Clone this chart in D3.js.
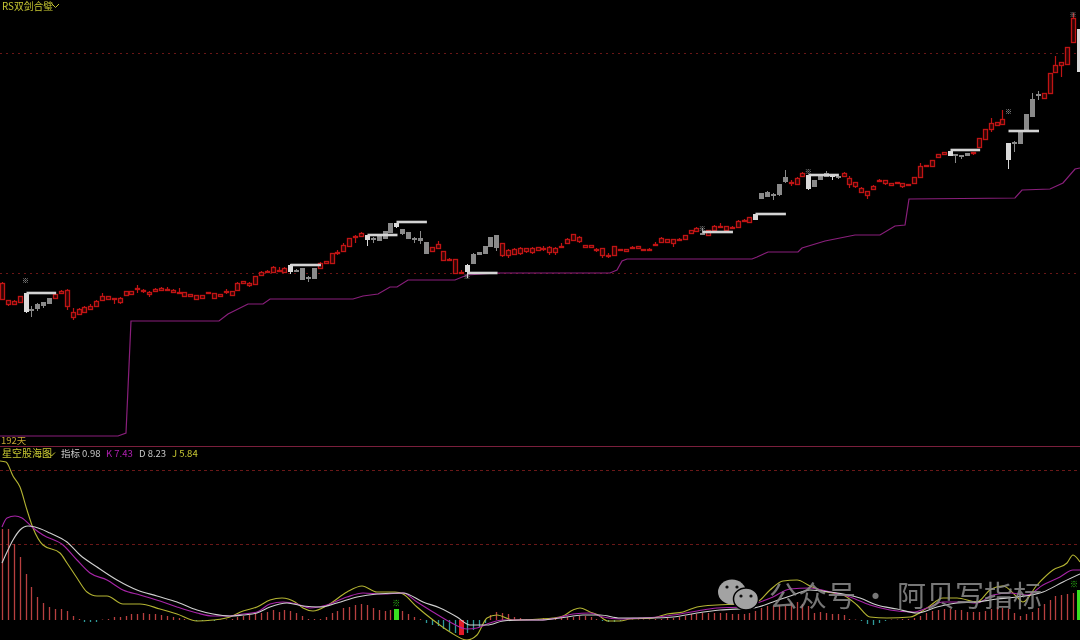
<!DOCTYPE html>
<html><head><meta charset="utf-8">
<script src="https://cdnjs.cloudflare.com/ajax/libs/d3/7.8.5/d3.min.js"></script>
<style>html,body{margin:0;padding:0;background:#000;overflow:hidden}svg{display:block;filter:blur(0.3px)}</style>
</head><body><svg id="c" width="1080" height="640"></svg>
<script>
const bodyTop=[162,145,144,149,152,136,141,143,147,151,
154,155,133,136,138,139,144,149,149,147,
147,154,154,157,155,153,156,157,156,155,
153,153,151,150,150,153,152,151,154,154,
162,164,162,169,173,174,178,175,177,180,
175,177,168,177,182,184,192,193,200,207,
209,212,210,207,209,214,222,222,216,213,
207,207,203,198,201,194,186,186,173,180,
191,193,199,208,210,202,195,196,197,197,
197,198,197,198,197,199,206,211,208,200,
200,196,197,190,199,196,196,198,199,196,
196,201,207,206,206,206,210,215,217,212,
215,219,219,219,218,224,225,228,231,252,
253,251,261,268,263,267,272,270,265,269,
272,271,269,272,267,263,257,254,259,265,
265,262,263,262,261,268,279,280,285,291,
293,294,291,290,292,293,307,316,322,323,
326,302,303,314,331,346,351,352,372,380,
383,398,427,416];
const bodyLen=[16,4,3,6,18,1,4,3,5,4,
2,16,5,5,5,3,5,4,3,1,
4,4,3,1,1,2,2,2,1,2,
1,4,2,4,3,1,5,2,1,4,
7,2,2,8,3,1,5,1,4,6,
1,11,1,10,5,2,10,1,6,8,
1,3,4,1,4,7,9,3,4,6,
1,2,11,4,4,9,1,14,1,6,
9,2,7,9,12,12,5,5,5,3,
4,3,1,5,4,1,4,6,4,2,
2,1,7,1,9,1,2,1,2,1,
1,1,4,3,4,1,4,3,3,1,
5,4,1,4,1,6,1,5,5,5,
4,1,10,4,1,6,3,13,6,3,
3,2,1,3,6,4,4,4,3,1,
3,2,1,3,1,6,11,1,6,3,
2,4,1,1,2,1,9,10,6,3,
5,16,1,12,17,17,1,5,20,7,
3,17,24,42];
const upWick=[1,0,1,0,0,3,1,0,0,0,
1,1,4,1,1,2,1,3,0,0,
1,0,0,3,1,1,1,1,2,1,
4,0,0,0,0,0,0,0,2,0,
1,0,1,0,1,1,1,3,1,1,
1,0,1,0,1,0,0,2,2,0,
1,1,0,1,0,0,0,0,0,0,
1,7,0,0,3,0,1,0,2,1,
1,0,0,0,0,0,1,1,1,0,
1,0,2,1,1,3,1,0,1,0,
0,1,0,2,0,0,0,1,0,0,
1,2,1,0,0,1,0,0,1,5,
0,1,3,0,1,1,1,0,0,0,
1,1,0,7,2,1,1,0,0,0,
2,0,0,1,2,0,1,0,1,1,
0,0,0,0,0,0,3,0,0,0,
0,0,0,0,0,0,0,0,5,0,
9,0,1,0,0,6,3,0,0,9,
0,0,5,0];
const downWick=[1,2,0,1,2,7,3,3,1,0,
1,4,3,1,1,1,1,1,1,5,
2,1,0,4,2,3,1,0,1,1,
1,1,0,1,0,1,1,1,2,0,
0,1,2,0,1,1,1,1,0,3,
1,1,4,1,0,1,0,2,0,0,
6,0,7,4,1,0,0,2,2,1,
4,4,0,1,0,0,1,0,1,7,
1,0,1,0,4,2,3,1,2,2,
2,1,2,3,3,1,1,0,2,0,
0,2,3,2,0,1,0,1,0,1,
1,0,0,0,4,1,0,0,1,1,
0,0,1,0,1,0,1,0,1,0,
0,5,2,2,3,1,1,2,0,0,
0,4,2,1,4,2,0,4,1,1,
2,0,1,2,0,0,0,1,0,0,
0,0,8,3,0,2,1,0,3,1,
0,10,9,0,0,1,5,1,0,0,
12,0,0,0];
const kindRuns=[['r',4],['w',1],['g',4],['r',40],['w',1],['g',4],['r',8],['w',1],['g',4],['w',1],['g',5],['r',6],['w',1],['g',5],['r',34],['g',1],['r',8],['w',1],['g',5],['r',3],['w',1],['g',3],['w',1],['g',1],['r',18],['w',1],['g',3],['r',6],['w',1],['g',5],['r',6],['w',1]];
const signalBars=[4,49,62,67,79,119,128,137,161,171];
const signalLevels=[152,180,210,223,172,213,231,270,295,314];
const markBars=[4,79,119,137,171,182];
const markLevels=[164,168,216,273,333,430];
const stopLine=[[0,9],[118,9],[126,12],[131,124],[219,124],[228,131],[248,141],[263,141],[270,146],[353,146],[363,149],[378,151],[390,158],[397,158],[408,165],[455,165],[467,170],[497,172],[610,172],[617,175],[622,184],[627,186],[752,186],[757,188],[768,193],[798,193],[802,197],[825,204],[855,210],[880,210],[895,219],[905,220],[909,246],[1015,247],[1022,255],[1050,256],[1063,262],[1075,276],[1080,277]];
const histValues=[91,91,76,63,46,33,23,17,13,11,
11,9,4,1,-2,-2,-2,0.5,1,3,
3,4,6,6,7,6,6,5,4,3,
2,1,1,-1,-1,-1,-1,0.5,0.5,1,
3,4,5,6,7,8,10,8,10,9,
7,4,1,1,1,3,7,9,12,13,
15,16,15,12,10,9,10,11,9,6,
3,1,-3,-5,-6,-9,-11,-13,-15,-13,
-10,-7,-3,5,8,7,6,3,2,1,
1,1,2,2,1,2,3,3,4,4,
3,1,-1,-2,-2,-1,0.5,0.5,0.5,0.5,
0.5,1,1,2,2,3,4,6,6,7,
7,7,7,7,6,6,6,7,9,12,
14,14,15,14,17,18,16,14,7,8,
7,6,6,5,1,0.5,-1,-4,-5,-3,
-1,0.5,0.5,1,1,2,4,7,9,10,
11,11,10,10,8,8,8,9,11,13,
12,11,7,4,6,8,12,16,20,24,
25,26,27,30];
const greenBars=[67,183];
const redBars=[78];
const jLine=[[0,159],[6,158],[13,144],[20,133],[27,110],[33,92],[43,75],[60,67],[67,57],[77,42],[87,28],[97,24],[107,24],[123,16],[140,16],[160,11],[177,6],[197,-1],[213,0],[230,3],[243,9],[257,13],[270,20],[282,22],[295,18],[303,12],[313,9],[328,15],[347,28],[362,34],[377,28],[395,28],[403,26],[417,13],[433,0],[450,-12],[467,-20],[477,-15],[487,2],[497,5],[513,0],[540,1],[553,2],[563,4],[573,10],[580,12],[590,8],[598,5],[608,-1],[620,-1],[630,1],[653,2],[667,6],[683,8],[697,13],[717,15],[740,16],[757,18],[770,30],[783,39],[797,40],[810,34],[827,28],[843,25],[857,15],[870,3],[887,2],[910,3],[927,12],[943,22],[957,22],[977,18],[990,30],[1003,34],[1017,23],[1023,18],[1037,35],[1053,50],[1067,57],[1073,65],[1080,58]];
const kLine=[[2,93],[7,102],[15,104],[22,102],[32,93],[43,85],[63,75],[77,60],[90,47],[107,40],[123,30],[140,25],[160,19],[177,13],[197,7],[213,4],[230,4],[243,6],[257,8],[270,16],[283,18],[297,16],[310,12],[327,15],[347,23],[363,27],[383,26],[403,27],[417,18],[433,8],[450,-2],[467,-9],[477,-8],[490,-3],[503,0],[520,0],[540,0],[557,2],[573,6],[590,7],[603,3],[620,1],[640,2],[657,3],[673,5],[697,9],[717,12],[740,13],[757,17],[773,23],[790,31],[810,32],[830,28],[850,23],[870,15],[890,10],[913,8],[927,12],[943,18],[960,18],[977,17],[993,25],[1010,27],[1027,25],[1043,35],[1060,43],[1073,50],[1080,50]];
const dLine=[[2,57],[7,68],[13,80],[20,90],[28,94],[35,93],[50,87],[67,78],[80,65],[97,53],[117,40],[137,30],[157,24],[177,18],[197,10],[213,6],[230,4],[243,5],[257,7],[270,13],[287,17],[303,14],[320,13],[337,17],[357,23],[377,26],[403,27],[423,18],[440,12],[457,3],[470,-5],[487,-5],[503,-1],[520,0],[540,0],[560,2],[583,5],[600,5],[620,2],[653,2],[673,3],[697,7],[720,10],[753,12],[773,18],[793,25],[810,30],[830,28],[860,22],[877,15],[897,11],[917,7],[937,13],[957,17],[977,18],[997,21],[1017,23],[1043,28],[1063,38],[1080,46]];
const priceGuides=[392,172];
const oscGuides=[150,76];
const legend=[{t:"指标",x:61,f:"#c8c8c8"},{t:"0.98",x:82,f:"#c8c8c8"},{t:"K 7.43",x:106,f:"#b020b0"},{t:"D 8.23",x:139,f:"#c8c8c8"},{t:"J 5.84",x:172,f:"#c8c832"}];
const wmWords=[{t:"公众号",x:769},{t:"·",x:861},{t:"阿贝写指标",x:897}];

const svg=d3.select("#c");
svg.append("rect").attr("width",1080).attr("height",640).attr("fill","#000");
const W=1080,font="'Noto Sans CJK SC','Noto Sans',sans-serif";
const kinds=kindRuns.flatMap(([k,n])=>Array(n).fill(k));
const bar=d3.scaleLinear().domain([0,183]).range([2,1079]);
const cx=i=>Math.round(bar(i))+.5;
const pos=d3.scaleLinear().domain([0,1080]).range([0,1080]);
const price=d3.scaleLinear().domain([0,445]).range([445,0]);
const osc=d3.scaleLinear().domain([0,150]).range([620,470]);
const snap=v=>Math.round(v)+.5;
const candles=bodyTop.map((t,i)=>({i,t,b:t-bodyLen[i],hi:t+upWick[i],lo:t-bodyLen[i]-downWick[i],k:kinds[i]}));

svg.selectAll(".pg").data(priceGuides).join("line").attr("x1",0).attr("x2",W).attr("y1",d=>snap(price(d))).attr("y2",d=>snap(price(d))).attr("stroke","#6a1616").attr("stroke-dasharray","2 4");
svg.selectAll(".og").data(oscGuides).join("line").attr("x1",0).attr("x2",W).attr("y1",d=>snap(osc(d))).attr("y2",d=>snap(osc(d))).attr("stroke","#6a1818").attr("stroke-dasharray","3 3");
svg.append("line").attr("x1",0).attr("x2",W).attr("y1",446.5).attr("y2",446.5).attr("stroke","#7a1f3c");

const ln=d3.line().x(d=>pos(d[0])).y(d=>price(d[1]));
svg.append("path").attr("d",ln(stopLine)).attr("fill","none").attr("stroke","#8a1f7c").attr("stroke-width",1.2);

const col={r:"#c01414",g:"#8a8a8a",w:"#dadada"};
const cg=svg.append("g");
cg.selectAll(".w").data(candles).join("line").attr("x1",d=>cx(d.i)).attr("x2",d=>cx(d.i)).attr("y1",d=>price(d.hi)).attr("y2",d=>price(d.lo)).attr("stroke",d=>col[d.k]).attr("stroke-width",d=>d.k==="r"?1.2:1);
cg.selectAll(".b").data(candles).join("rect").attr("x",d=>cx(d.i)-2).attr("width",4).attr("y",d=>snap(price(d.t))).attr("height",d=>Math.max(1,Math.round(price(d.b)-price(d.t))))
 .attr("fill",d=>d.k==="r"?"#2c0404":col[d.k]).attr("stroke",d=>col[d.k]).attr("stroke-width",d=>d.k==="r"?1.3:1);

svg.selectAll(".s").data(signalBars).join("line").attr("x1",d=>cx(d)).attr("x2",d=>bar(d+5.2))
 .attr("y1",(d,i)=>price(signalLevels[i])).attr("y2",(d,i)=>price(signalLevels[i])).attr("stroke","#d4d4d4").attr("stroke-width",2.6);
svg.selectAll(".m").data(markBars).join("text").attr("x",d=>bar(d)).attr("y",(d,i)=>price(markLevels[i])).attr("text-anchor","middle").attr("dy","0.35em")
 .attr("font-size",7).attr("font-family",font).attr("fill","#b0b0b0").text("※");

const gs=new Set(greenBars),rs=new Set(redBars);
svg.selectAll(".h").data(histValues).join("line")
 .attr("x1",(d,i)=>cx(i)).attr("x2",(d,i)=>cx(i)).attr("y1",osc(0)).attr("y2",d=>osc(d))
 .attr("stroke",(d,i)=>gs.has(i)?"#39e020":rs.has(i)?"#e01c28":d<0?"#2f9a9a":"#b84040")
 .attr("stroke-width",(d,i)=>gs.has(i)||rs.has(i)?5:1.3);
svg.selectAll(".hm").data(greenBars).join("text").attr("x",d=>Math.min(bar(d),1074)).attr("y",d=>osc(histValues[d]+6)).attr("text-anchor","middle").attr("dy","0.35em")
 .attr("font-size",8).attr("font-family",font).attr("fill","#30c818").text("※");

const sm=d3.line().x(d=>pos(d[0])).y(d=>osc(d[1])).curve(d3.curveMonotoneX);
[[jLine,"#b4b432"],[kLine,"#a824a8"],[dLine,"#d0d0d0"]].forEach(([s,c])=>svg.append("path").attr("d",sm(s)).attr("fill","none").attr("stroke",c).attr("stroke-width",1.1));

const txt=(t,x,y,f,s=9.5)=>svg.append("text").attr("x",x).attr("y",y).attr("fill",f).attr("font-size",s).attr("font-family",font).text(t);
txt("RS双剑合璧",2,9.5,"#c8c832",9.8);
txt("192天",1,444,"#c8a832");
txt("星空股海图",2,457,"#c8c832",10);
legend.forEach(l=>txt(l.t,l.x,457,l.f,9.5));
[[52,4],[48,452.5]].forEach(([x,y])=>svg.append("path").attr("d",`M${x} ${y}l3.5 3.5l3.5-3.5`).attr("fill","none").attr("stroke","#c8c832"));

const wm=svg.append("g");
wm.append("ellipse").attr("cx",732).attr("cy",592).attr("rx",14).attr("ry",12.5).attr("fill","#a3a3a3");
wm.append("ellipse").attr("cx",746).attr("cy",599).attr("rx",12.5).attr("ry",11).attr("fill","#a3a3a3").attr("stroke","#000").attr("stroke-width",1.5);
[[727,587],[737,587],[741,596],[751,596]].forEach(([x,y])=>wm.append("circle").attr("cx",x).attr("cy",y).attr("r",1.6).attr("fill","#111"));
wm.selectAll("text").data(wmWords).join("text").attr("x",d=>d.x).attr("y",607).attr("font-size",29).attr("font-family",font).attr("fill","#8c8c8c").attr("fill-opacity",.85).text(d=>d.t);
</script></body></html>
